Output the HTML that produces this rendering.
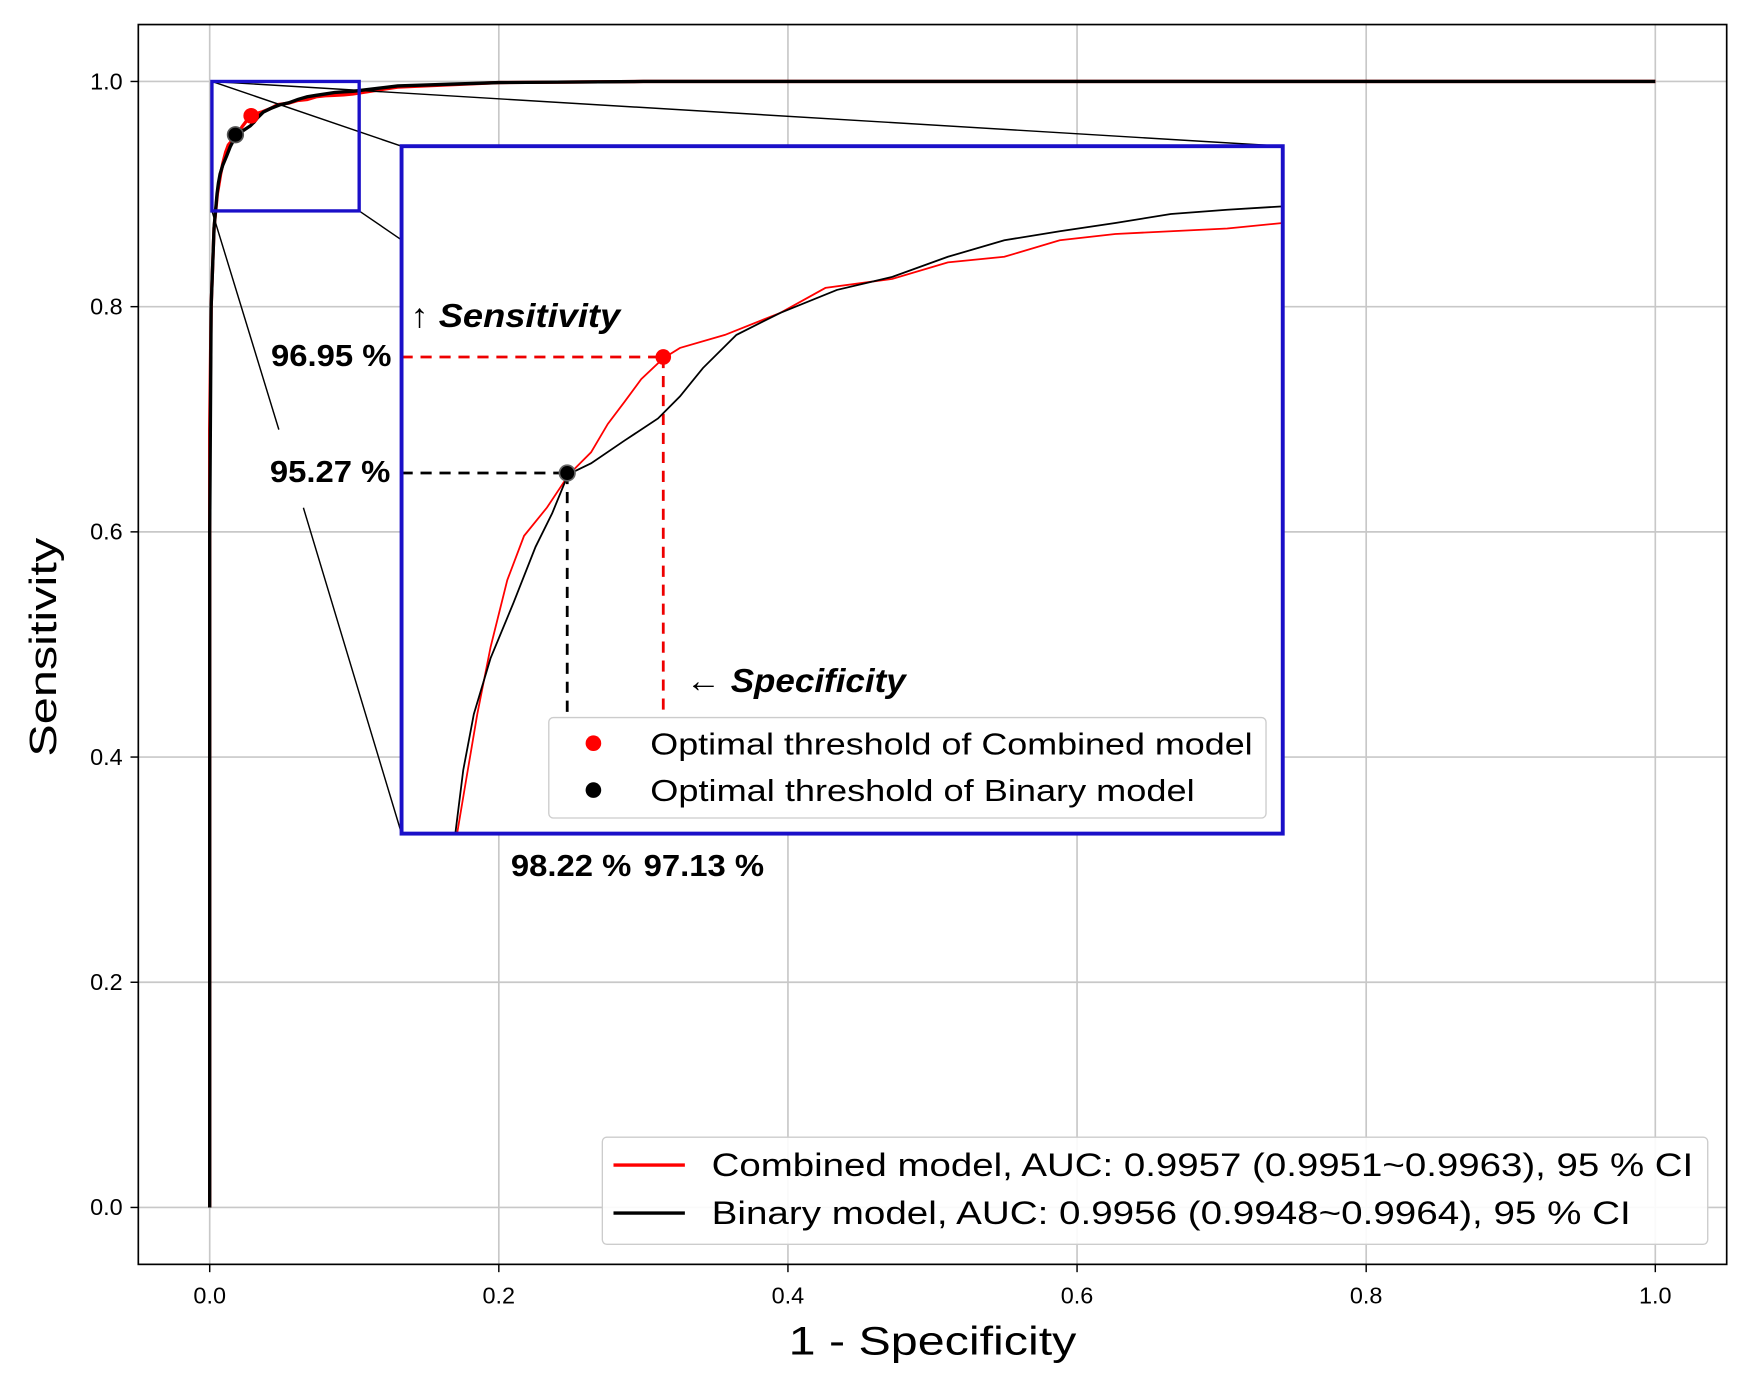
<!DOCTYPE html>
<html><head><meta charset="utf-8"><style>
html,body{margin:0;padding:0;background:#fff;overflow:hidden;width:1749px;height:1386px}
svg{display:block}
text{font-family:"Liberation Sans","DejaVu Sans",sans-serif}
</style></head><body>
<svg id="chart" width="1749" height="1386" viewBox="0 0 1568 1242" preserveAspectRatio="none" xmlns="http://www.w3.org/2000/svg">
<defs>
<clipPath id="mainclip"><rect x="124" y="22" width="1424" height="1111"/></clipPath>
<clipPath id="insetclip"><rect x="360" y="131" width="790" height="616"/></clipPath>
</defs>
<rect x="0" y="0" width="1568" height="1242" fill="#fff"/>
<g id="grid"></g>
<g id="mainplot" clip-path="url(#mainclip)"></g>
<rect x="124" y="22" width="1424" height="1111" fill="none" stroke="#000" stroke-width="1.5"/>
<g id="ticks"></g>
<text x="836" y="1214" font-size="36" text-anchor="middle" textLength="258" lengthAdjust="spacingAndGlyphs">1 - Specificity</text>
<text x="0" y="0" font-size="34" text-anchor="middle" transform="translate(50,580) rotate(-90)" textLength="196" lengthAdjust="spacingAndGlyphs">Sensitivity</text>
<g id="zoomlines" stroke="#000" stroke-width="1.3">
<line x1="190" y1="73" x2="1150" y2="131"/>
<line x1="190" y1="73" x2="360" y2="131"/>
<line x1="322" y1="189" x2="360" y2="215"/>
<line x1="190" y1="189" x2="250" y2="385"/>
<line x1="272" y1="455" x2="360" y2="747"/>
</g>
<rect x="190" y="73" width="132" height="116" fill="none" stroke="#1a0fc8" stroke-width="3"/>
<rect x="360" y="131" width="790" height="616" fill="#fff"/>
<g id="insetplot" clip-path="url(#insetclip)"></g>
<rect x="360" y="131" width="790" height="616" fill="none" stroke="#1a0fc8" stroke-width="3.5"/>
<g>
<rect x="492" y="643" width="643" height="90" rx="4" fill="#fff" stroke="#ccc" stroke-width="1.2"/>
<circle cx="532" cy="666" r="7" fill="#f00"/>
<text x="583" y="676" font-size="27" textLength="540" lengthAdjust="spacingAndGlyphs">Optimal threshold of Combined model</text>
<circle cx="532" cy="708" r="7" fill="#000"/>
<text x="583" y="718" font-size="27" textLength="488" lengthAdjust="spacingAndGlyphs">Optimal threshold of Binary model</text>
</g>
<g font-weight="bold" font-size="27">
<text x="368" y="293" font-style="italic" font-size="30" textLength="188" lengthAdjust="spacingAndGlyphs">↑ Sensitivity</text>
<text x="243" y="328" textLength="108" lengthAdjust="spacingAndGlyphs">96.95 %</text>
<text x="242" y="432" textLength="108" lengthAdjust="spacingAndGlyphs">95.27 %</text>
<text x="615" y="620" font-style="italic" font-size="30" textLength="197" lengthAdjust="spacingAndGlyphs">← Specificity</text>
<text x="458" y="785" textLength="108" lengthAdjust="spacingAndGlyphs">98.22 %</text>
<text x="577" y="785" textLength="108" lengthAdjust="spacingAndGlyphs">97.13 %</text>
</g>
<g>
<rect x="540" y="1019" width="991" height="96" rx="4" fill="#fff" fill-opacity="0.9" stroke="#ccc" stroke-width="1.2"/>
<line x1="550" y1="1044" x2="614" y2="1044" stroke="#f00" stroke-width="3"/>
<text x="638" y="1054" font-size="29" textLength="880" lengthAdjust="spacingAndGlyphs">Combined model, AUC: 0.9957 (0.9951~0.9963), 95 % CI</text>
<line x1="550" y1="1087" x2="614" y2="1087" stroke="#000" stroke-width="3"/>
<text x="638" y="1097" font-size="29" textLength="824" lengthAdjust="spacingAndGlyphs">Binary model, AUC: 0.9956 (0.9948~0.9964), 95 % CI</text>
</g>
</svg>
<script>
const xTicks = [0, 0.2, 0.4, 0.6, 0.8, 1.0];
const yTicks = [0, 0.2, 0.4, 0.6, 0.8, 1.0];
const xTickLabels = ["0.0","0.2","0.4","0.6","0.8","1.0"];
const yTickLabels = ["0.0","0.2","0.4","0.6","0.8","1.0"];
const combinedFpr = [0,0,0.001,0.003,0.0053,0.0063,0.0076,0.0091,0.0110,0.0129,0.0155,0.0180,0.0205,0.0224,0.0243,0.0262,0.0287,0.0306,0.0357,0.0420,0.0471,0.0547,0.0610,0.0674,0.0737,0.0800,0.0863,0.0927,0.0990,0.13,0.2,0.3,1.0];
const combinedTpr = [0,0.69,0.80,0.87,0.9005,0.9081,0.9178,0.9275,0.9372,0.9436,0.9477,0.9525,0.9557,0.9598,0.9630,0.9663,0.9693,0.9708,0.9727,0.9759,0.9795,0.9808,0.9832,0.9840,0.9864,0.9873,0.9877,0.9881,0.9889,0.995,0.999,1.0,1.0];
const binaryFpr = [0,0,0.001,0.003,0.0051,0.0060,0.0072,0.0091,0.0117,0.0142,0.0161,0.0179,0.0205,0.0243,0.0281,0.0306,0.0332,0.0370,0.0420,0.0484,0.0547,0.0610,0.0674,0.0737,0.0800,0.0863,0.0927,0.0990,0.13,0.2,0.3,1.0];
const binaryTpr = [0,0.60,0.80,0.87,0.9005,0.9097,0.9178,0.9259,0.9339,0.9420,0.9469,0.9525,0.9541,0.9574,0.9606,0.9638,0.9679,0.9727,0.9759,0.9792,0.9811,0.9840,0.9864,0.9877,0.9889,0.9902,0.9908,0.9913,0.996,0.999,1.0,1.0];
const optCombined = [0.0287, 0.9695];
const optBinary = [0.0178, 0.9527];

const NS = "http://www.w3.org/2000/svg";
const X = v => 188 + v * 1296;
const Y = v => 1082 - v * 1009;
const IX = v => 360 + (v + 0.001) * 7900;
const IY = v => 747 - (v - 0.9005) * 6190;
function mk(tag, attrs, parent){const e=document.createElementNS(NS,tag);for(const k in attrs)e.setAttribute(k,attrs[k]);parent.appendChild(e);return e;}
const grid = document.getElementById('grid');
const ticks = document.getElementById('ticks');
xTicks.forEach((t,i)=>{
  const g=mk('line',{x1:X(t),x2:X(t),y1:22,y2:1133,stroke:'#c8c8c8','stroke-width':1.5},grid);
  
  
  const tk=mk('line',{x1:X(t),x2:X(t),y1:1133,y2:1140,stroke:'#000','stroke-width':1.3},ticks);
  
  
  const tl=mk('text',{x:X(t),y:1168,'font-size':21,'text-anchor':'middle'},ticks);
  
  
  tl.textContent=xTickLabels[i];
});
yTicks.forEach((t,i)=>{
  const g=mk('line',{x1:124,x2:1548,y1:Y(t),y2:Y(t),stroke:'#c8c8c8','stroke-width':1.5},grid);
  
  
  const tk=mk('line',{x1:117,x2:124,y1:Y(t),y2:Y(t),stroke:'#000','stroke-width':1.3},ticks);
  
  
  const tl=mk('text',{x:110,y:Y(t)+7,'font-size':21,'text-anchor':'end'},ticks);
  
  
  tl.textContent=yTickLabels[i];
});
function pts(xs,ys,fx,fy){return xs.map((x,i)=>fx(x).toFixed(1)+','+fy(ys[i]).toFixed(1)).join(' ');}
const main=document.getElementById('mainplot');
const rc=mk('polyline',{points:pts(combinedFpr,combinedTpr,X,Y),fill:'none',stroke:'#f00','stroke-width':3},main);


const bc=mk('polyline',{points:pts(binaryFpr,binaryTpr,X,Y),fill:'none',stroke:'#000','stroke-width':3},main);


const p1=mk('circle',{cx:X(optCombined[0]),cy:Y(optCombined[1]),r:7,fill:'#f00'},main);


const p2=mk('circle',{cx:X(optBinary[0]),cy:Y(optBinary[1]),r:7,fill:'#000',stroke:'#555','stroke-width':1.5},main);


const ins=document.getElementById('insetplot');
function dash(x1,y1,x2,y2,c,name){const l=mk('line',{x1,y1,x2,y2,stroke:c,'stroke-width':2.5,'stroke-dasharray':'10,7'},ins);}
dash(360,IY(optCombined[1]),IX(optCombined[0]),IY(optCombined[1]),'#e00','combined-sensitivity-guide');
dash(IX(optCombined[0]),IY(optCombined[1]),IX(optCombined[0]),640,'#e00','combined-specificity-guide');
dash(360,IY(optBinary[1]),IX(optBinary[0]),IY(optBinary[1]),'#000','binary-sensitivity-guide');
dash(IX(optBinary[0]),IY(optBinary[1]),IX(optBinary[0]),640,'#000','binary-specificity-guide');
const irc=mk('polyline',{points:pts(combinedFpr,combinedTpr,IX,IY),fill:'none',stroke:'#f00','stroke-width':1.6},ins);


const ibc=mk('polyline',{points:pts(binaryFpr,binaryTpr,IX,IY),fill:'none',stroke:'#000','stroke-width':1.6},ins);


const ip1=mk('circle',{cx:IX(optCombined[0]),cy:IY(optCombined[1]),r:7,fill:'#f00'},ins);


const ip2=mk('circle',{cx:IX(optBinary[0]),cy:IY(optBinary[1]),r:7,fill:'#000',stroke:'#666','stroke-width':1.5},ins);


</script>
</body></html>
